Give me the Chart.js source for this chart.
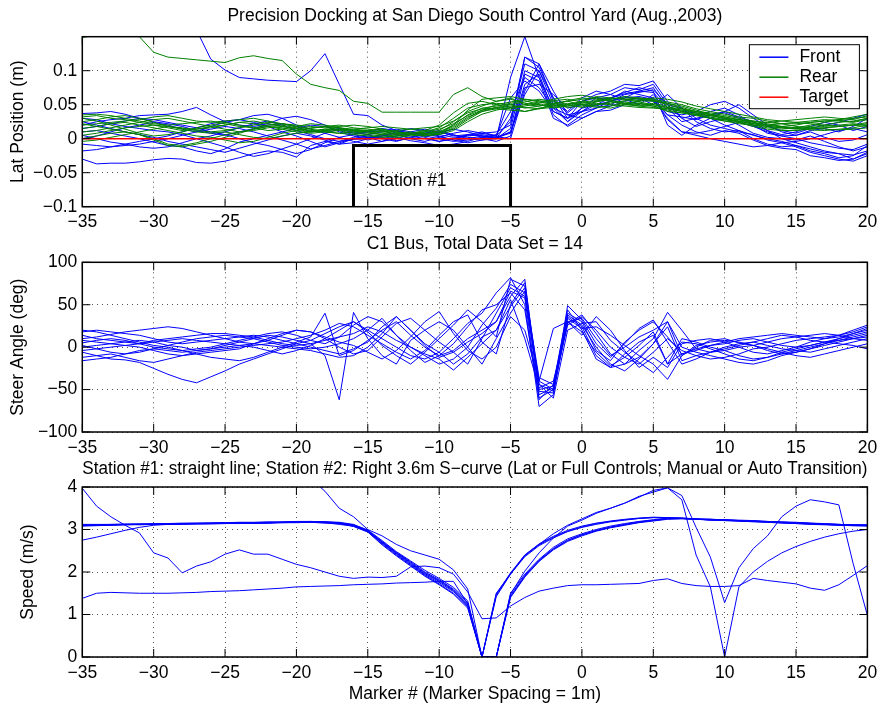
<!DOCTYPE html>
<html>
<head>
<meta charset="utf-8">
<title>Precision Docking</title>
<script src="https://cdn.jsdelivr.net/npm/chart.js@4.4.0/dist/chart.umd.min.js"></script>
<style>
  body { margin: 0; background: #fff; }
  canvas { position: absolute; left: 0; top: 0; }
</style>
</head>
<body>
<canvas id="lat" width="883" height="707"></canvas>
<canvas id="steer" width="883" height="707"></canvas>
<canvas id="speed" width="883" height="707"></canvas>
<script>
// marker numbers along the track
const markers = [
  -35, -34, -33, -32, -31, -30, -29, -28, -27, -26,
  -25, -24, -23, -22, -21, -20, -19, -18, -17, -16,
  -15, -14, -13, -12, -11, -10, -9, -8, -7, -6,
  -5, -4, -3, -2, -1, 0, 1, 2, 3, 4,
  5, 6, 7, 8, 9, 10, 11, 12, 13, 14,
  15, 16, 17, 18, 19, 20
];
const xTicks = [-35, -30, -25, -20, -15, -10, -5, 0, 5, 10, 15, 20];
const latTicks = [-0.1, -0.05, 0, 0.05, 0.1];
const steerTicks = [-100, -50, 0, 50, 100];
const speedTicks = [0, 1, 2, 3, 4];

// lateral position of the front sensor (m), one row per run
const frontLat = [
  [-0.030,-0.037,-0.036,-0.036,-0.034,-0.031,-0.029,-0.030,-0.035,-0.036,
   -0.033,-0.028,-0.022,-0.018,-0.020,-0.027,-0.010,-0.004,-0.008,0.000,
   0.004,0.002,-0.003,0.001,0.006,0.003,-0.002,0.000,0.004,0.002,
   0.010,0.080,0.095,0.040,0.030,0.045,0.050,0.055,0.060,0.062,
   0.058,0.030,0.010,0.005,0.000,-0.004,-0.008,-0.012,-0.010,-0.006,
   -0.012,-0.020,-0.025,-0.030,-0.033,-0.025],
  [0.300,0.280,0.260,0.240,0.220,0.200,0.190,0.180,0.160,0.117,
   0.101,0.090,0.088,0.086,0.085,0.084,0.100,0.125,0.080,0.036,
   0.034,0.020,0.012,0.008,0.004,0.006,0.002,0.005,0.008,0.010,
   0.020,0.120,0.105,0.060,0.040,0.060,0.070,0.065,0.075,0.072,
   0.080,0.050,0.030,0.035,0.040,0.045,0.035,0.020,0.008,0.004,
   0.005,0.010,0.002,-0.004,-0.002,0.006],
  [0.037,0.038,0.040,0.036,0.030,0.025,0.022,0.018,0.012,0.008,
   0.005,0.010,0.015,0.020,0.022,0.018,0.010,0.012,0.015,0.008,
   0.010,0.015,0.012,0.008,0.006,0.010,0.005,0.002,0.000,-0.004,
   0.004,0.095,0.085,0.030,0.020,0.035,0.045,0.050,0.060,0.070,
   0.075,0.045,0.040,0.038,0.030,0.020,0.012,0.005,0.000,-0.004,
   -0.010,-0.015,-0.020,-0.022,-0.030,-0.020],
  [0.020,0.025,0.028,0.030,0.034,0.035,0.036,0.040,0.046,0.035,
   0.025,0.020,0.018,0.022,0.030,0.033,0.028,0.020,0.010,0.004,
   -0.002,0.004,0.010,0.015,0.012,0.008,0.014,0.010,0.004,0.000,
   0.030,0.110,0.100,0.050,0.025,0.040,0.055,0.060,0.068,0.075,
   0.070,0.020,0.005,0.020,0.030,0.040,0.050,0.035,0.020,0.010,
   0.005,0.012,0.015,0.010,0.018,0.030],
  [0.010,0.012,0.008,0.004,0.000,-0.005,-0.010,-0.012,-0.018,-0.022,
   -0.015,-0.005,0.000,0.005,0.010,0.015,0.020,0.018,0.012,0.006,
   0.002,-0.004,0.000,0.006,0.010,0.004,-0.002,-0.006,-0.002,0.003,
   0.000,0.070,0.110,0.070,0.035,0.030,0.040,0.048,0.055,0.060,
   0.050,0.065,0.045,0.025,0.015,0.010,0.012,0.000,-0.008,-0.012,
   -0.010,-0.018,-0.022,-0.028,-0.025,-0.010],
  [-0.018,-0.016,-0.012,-0.010,-0.008,-0.004,0.000,0.005,0.010,0.014,
   0.018,0.015,0.010,0.004,-0.002,-0.008,-0.015,-0.010,-0.004,-0.001,
   0.000,0.006,0.002,-0.003,-0.006,-0.010,-0.008,-0.004,0.002,0.006,
   0.040,0.090,0.075,0.045,0.025,0.045,0.060,0.065,0.058,0.050,
   0.065,0.040,0.035,0.040,0.050,0.055,0.045,0.030,0.018,0.012,
   0.008,0.015,0.020,0.024,0.030,0.036],
  [0.030,0.028,0.022,0.018,0.015,0.012,0.010,0.006,0.000,-0.006,
   -0.012,-0.020,-0.026,-0.022,-0.015,-0.008,0.000,0.008,0.014,0.010,
   0.006,0.000,-0.004,0.002,0.008,0.012,0.006,0.000,-0.002,0.000,
   0.015,0.100,0.090,0.035,0.018,0.030,0.040,0.042,0.050,0.055,
   0.060,0.035,0.020,0.010,0.005,0.012,0.008,-0.002,-0.010,-0.014,
   -0.016,-0.025,-0.028,-0.032,-0.030,-0.022],
  [0.000,0.004,0.010,0.016,0.020,0.024,0.020,0.014,0.010,0.018,
   0.024,0.028,0.034,0.036,0.030,0.020,0.014,0.008,0.002,-0.004,
   -0.008,-0.004,0.004,0.010,0.014,0.010,0.004,0.006,0.010,0.004,
   0.060,0.085,0.070,0.040,0.030,0.055,0.065,0.070,0.080,0.078,
   0.085,0.055,0.030,0.018,0.025,0.030,0.020,0.008,0.002,0.000,
   -0.002,0.004,-0.004,-0.012,-0.018,-0.012],
  [0.025,0.020,0.015,0.010,0.006,0.002,-0.004,-0.008,-0.012,-0.016,
   -0.020,-0.014,-0.008,-0.002,0.004,0.008,0.004,-0.002,-0.008,-0.006,
   0.000,0.004,0.008,0.004,0.000,-0.004,0.000,0.004,0.006,0.002,
   0.008,0.075,0.080,0.065,0.045,0.050,0.048,0.055,0.065,0.068,
   0.072,0.050,0.045,0.030,0.020,0.015,0.010,0.006,-0.002,-0.006,
   -0.004,0.000,0.006,0.012,0.015,0.010],
  [0.015,0.018,0.022,0.026,0.030,0.028,0.024,0.020,0.016,0.010,
   0.006,0.000,-0.006,-0.010,-0.016,-0.022,-0.016,-0.006,0.002,0.006,
   0.010,0.012,0.006,0.000,-0.004,0.002,0.008,0.012,0.008,0.004,
   0.025,0.120,0.110,0.055,0.038,0.055,0.060,0.058,0.070,0.065,
   0.060,0.028,0.010,0.008,0.012,0.018,0.024,0.018,0.010,0.004,
   0.000,-0.006,-0.010,-0.014,-0.016,-0.008],
  [0.005,0.000,-0.005,-0.008,-0.012,-0.014,-0.012,-0.006,0.000,0.004,
   0.010,0.016,0.022,0.026,0.020,0.012,0.006,0.000,-0.004,0.002,
   0.006,0.010,0.014,0.010,0.004,0.000,-0.004,-0.002,0.002,0.000,
   0.010,0.065,0.100,0.060,0.030,0.040,0.050,0.060,0.066,0.070,
   0.068,0.045,0.025,0.030,0.035,0.038,0.030,0.020,0.012,0.006,
   0.010,0.018,0.024,0.020,0.012,0.018],
  [-0.008,-0.010,-0.012,-0.008,-0.004,0.000,0.004,0.010,0.016,0.022,
   0.026,0.028,0.024,0.018,0.010,0.004,-0.004,-0.012,-0.006,0.000,
   0.002,0.000,0.004,0.008,0.002,-0.004,0.000,0.006,0.004,0.000,
   0.090,0.150,0.090,0.045,0.035,0.040,0.045,0.055,0.062,0.058,
   0.055,0.035,0.032,0.028,0.035,0.040,0.032,0.025,0.012,0.000,
   -0.006,-0.012,-0.018,-0.022,-0.024,-0.018]
];

// lateral position of the rear sensor (m)
const rearLat = [
  [0.149,0.152,0.156,0.155,0.150,0.127,0.120,0.118,0.116,0.114,
   0.112,0.119,0.122,0.118,0.115,0.095,0.080,0.075,0.071,0.055,
   0.052,0.039,0.039,0.039,0.039,0.039,0.065,0.075,0.062,0.055,
   0.060,0.050,0.048,0.052,0.055,0.050,0.048,0.045,0.050,0.052,
   0.048,0.040,0.038,0.036,0.034,0.030,0.026,0.022,0.020,0.022,
   0.024,0.026,0.028,0.027,0.025,0.030],
  [0.035,0.036,0.034,0.030,0.026,0.022,0.020,0.022,0.024,0.026,
   0.022,0.018,0.016,0.020,0.022,0.018,0.015,0.018,0.020,0.016,
   0.014,0.012,0.010,0.008,0.010,0.016,0.030,0.045,0.050,0.052,
   0.050,0.045,0.048,0.052,0.055,0.058,0.060,0.056,0.054,0.052,
   0.050,0.046,0.042,0.038,0.034,0.030,0.028,0.024,0.020,0.018,
   0.020,0.024,0.026,0.028,0.030,0.032],
  [0.025,0.028,0.032,0.034,0.030,0.024,0.018,0.015,0.014,0.016,
   0.020,0.024,0.026,0.022,0.018,0.015,0.012,0.014,0.016,0.012,
   0.010,0.008,0.006,0.008,0.012,0.020,0.038,0.052,0.055,0.050,
   0.046,0.040,0.044,0.050,0.056,0.060,0.058,0.055,0.050,0.048,
   0.052,0.048,0.040,0.036,0.030,0.026,0.022,0.020,0.018,0.016,
   0.015,0.016,0.018,0.020,0.022,0.020],
  [0.010,0.012,0.016,0.020,0.024,0.028,0.030,0.026,0.022,0.018,
   0.014,0.010,0.012,0.016,0.018,0.014,0.010,0.012,0.014,0.010,
   0.008,0.006,0.008,0.010,0.006,0.012,0.025,0.040,0.048,0.055,
   0.058,0.052,0.050,0.048,0.050,0.055,0.062,0.060,0.058,0.056,
   0.055,0.052,0.046,0.040,0.035,0.030,0.024,0.018,0.014,0.012,
   0.012,0.014,0.016,0.018,0.020,0.024],
  [0.000,0.004,0.008,0.010,0.006,0.000,-0.008,-0.010,-0.006,0.000,
   0.006,0.010,0.014,0.018,0.020,0.016,0.012,0.010,0.008,0.006,
   0.004,0.002,0.004,0.006,0.004,0.008,0.020,0.035,0.045,0.048,
   0.052,0.056,0.050,0.045,0.048,0.052,0.055,0.058,0.060,0.058,
   0.056,0.050,0.044,0.038,0.032,0.028,0.025,0.022,0.024,0.026,
   0.028,0.030,0.032,0.030,0.028,0.034],
  [0.020,0.022,0.024,0.026,0.028,0.032,0.034,0.030,0.026,0.024,
   0.026,0.028,0.030,0.026,0.022,0.020,0.018,0.016,0.018,0.020,
   0.018,0.014,0.010,0.008,0.010,0.014,0.022,0.034,0.042,0.046,
   0.044,0.048,0.052,0.056,0.058,0.054,0.050,0.052,0.056,0.060,
   0.058,0.054,0.050,0.044,0.040,0.036,0.032,0.030,0.026,0.022,
   0.018,0.016,0.014,0.013,0.014,0.016],
  [0.030,0.026,0.020,0.014,0.008,0.004,0.006,0.010,0.016,0.020,
   0.024,0.020,0.016,0.012,0.014,0.018,0.022,0.020,0.016,0.012,
   0.012,0.010,0.012,0.014,0.016,0.018,0.026,0.038,0.044,0.044,
   0.042,0.040,0.045,0.048,0.052,0.050,0.046,0.048,0.052,0.055,
   0.060,0.058,0.054,0.048,0.044,0.040,0.036,0.032,0.028,0.026,
   0.024,0.022,0.020,0.018,0.020,0.022],
  [0.015,0.018,0.022,0.024,0.020,0.016,0.012,0.008,0.004,0.002,
   -0.002,-0.006,-0.004,0.002,0.008,0.012,0.016,0.018,0.016,0.014,
   0.012,0.010,0.008,0.006,0.008,0.010,0.014,0.028,0.040,0.046,
   0.050,0.054,0.058,0.055,0.050,0.046,0.050,0.054,0.052,0.050,
   0.048,0.044,0.040,0.035,0.030,0.026,0.024,0.020,0.016,0.014,
   0.016,0.020,0.024,0.028,0.032,0.036],
  [-0.004,-0.002,0.002,0.006,0.010,0.014,0.018,0.016,0.012,0.010,
   0.012,0.016,0.020,0.024,0.022,0.018,0.014,0.010,0.008,0.010,
   0.012,0.014,0.010,0.006,0.004,0.006,0.012,0.025,0.036,0.042,
   0.046,0.050,0.054,0.058,0.062,0.064,0.060,0.056,0.052,0.048,
   0.046,0.042,0.038,0.034,0.030,0.028,0.026,0.022,0.018,0.016,
   0.014,0.015,0.016,0.018,0.020,0.018],
  [0.022,0.018,0.014,0.010,0.006,-0.002,-0.010,-0.012,-0.008,-0.004,
   0.002,0.008,0.014,0.018,0.016,0.012,0.010,0.012,0.014,0.012,
   0.010,0.006,0.004,0.006,0.008,0.006,0.016,0.030,0.042,0.050,
   0.054,0.058,0.056,0.052,0.048,0.050,0.054,0.058,0.062,0.060,
   0.057,0.052,0.048,0.042,0.036,0.032,0.028,0.026,0.024,0.022,
   0.022,0.024,0.026,0.026,0.024,0.028],
  [0.005,0.008,0.012,0.016,0.018,0.020,0.018,0.014,0.010,0.008,
   0.010,0.006,0.002,0.000,0.004,0.008,0.010,0.014,0.012,0.008,
   0.006,0.004,0.002,0.004,0.006,0.008,0.018,0.032,0.040,0.044,
   0.048,0.046,0.044,0.046,0.050,0.054,0.056,0.060,0.058,0.054,
   0.050,0.046,0.044,0.040,0.038,0.034,0.030,0.026,0.022,0.018,
   0.016,0.018,0.020,0.024,0.026,0.030],
  [0.032,0.034,0.030,0.028,0.024,0.020,0.016,0.012,0.014,0.018,
   0.020,0.024,0.022,0.018,0.014,0.010,0.008,0.010,0.012,0.014,
   0.016,0.018,0.016,0.014,0.012,0.010,0.020,0.042,0.058,0.060,
   0.062,0.058,0.054,0.050,0.046,0.048,0.052,0.050,0.048,0.046,
   0.045,0.044,0.042,0.040,0.036,0.032,0.028,0.024,0.020,0.017,
   0.015,0.013,0.012,0.014,0.016,0.020]
];

// target line and the Station #1 outline
const targetX = [-35, 20];
const targetY = [0, 0];
const stationX = [-16, -16, -5, -5];
const stationY = [-0.1, -0.01, -0.01, -0.1];

// steering angle (deg)
const steerDeg = [
  [10,12,15,18,20,22,24,22,18,14, 10,6,4,8,14,20,18,10,0,-8,
   -4,12,28,34,20,6,-6,-20,10,40, 70,60,-40,-50,30,34,10,-10,0,12,
   20,30,-10,0,8,10,5,2,-4,-8, -6,-2,4,10,16,22],
  [-6,-10,-14,-15,-18,-25,-32,-38,-42,-35, -28,-20,-14,-8,-2,4,8,16,24,30,
   18,2,-10,-20,-6,10,26,44,30,12, 80,72,-50,-46,40,30,-4,-16,6,20,
   30,12,-8,-4,2,6,10,12,14,16, 14,12,10,12,16,20],
  [20,18,14,10,6,2,0,-4,-8,-12, -14,-16,-12,-6,0,6,12,40,-10,-4,
   8,20,30,14,0,-10,-4,10,20,30, 60,80,-56,-48,26,36,20,0,-12,-20,
   -6,10,-4,-10,-14,-12,-8,-2,0,4, 8,10,12,14,18,24],
  [0,2,4,6,8,6,2,0,-4,-2, 2,6,10,14,12,8,4,-10,-62,41,
   10,-10,-20,8,20,30,20,0,-20,10, 40,66,-36,-44,44,20,-14,-24,-8,6,
   14,-20,10,6,0,-4,-10,-14,-12,-6, -2,2,6,8,10,12],
  [-12,-10,-8,-12,-16,-18,-14,-10,-6,-4, -2,0,2,4,6,10,14,20,28,24,
   14,4,-6,-14,-4,14,30,38,6,-8, 50,76,-44,-60,20,28,30,8,-6,-18,
   -30,-12,6,4,-2,-8,-14,-16,-12,-8, -4,0,4,8,12,16],
  [5,8,10,8,4,0,-2,-4,-2,0, 4,8,12,16,18,14,8,4,12,26,
   36,30,14,-4,-18,-10,4,24,44,50, 64,44,-60,-50,36,24,-10,-24,-20,-4,
   10,41,20,-2,-6,-4,0,2,6,10, 12,14,16,14,10,8],
  [14,10,8,6,4,6,8,10,8,6, 4,2,0,-4,-8,-4,2,10,20,30,
   20,10,0,-10,-14,-6,10,28,40,64, 82,50,-70,-56,34,22,24,14,2,-10,
   -20,-38,-10,2,6,8,6,2,-2,-6, -10,-12,-8,-4,0,4],
  [-16,-14,-12,-8,-4,-2,-4,-6,-4,-2, 0,2,4,2,0,-2,-4,-8,-12,-10,
   0,16,36,20,4,-6,-20,-8,12,20, 56,10,-48,-40,28,38,16,-8,-20,-12,
   4,24,-16,-10,-6,-2,2,6,10,14, 12,8,6,4,2,-2],
  [2,-2,-6,-8,-6,-2,2,6,10,12, 14,12,10,6,2,0,-2,0,4,10,
   20,34,14,0,-10,-20,-14,0,26,46, 74,64,-52,-54,49,32,4,-12,4,22,
   32,6,-20,-14,-6,0,4,6,2,-2, -4,-6,-2,2,6,10],
  [8,6,4,2,0,-4,-8,-10,-8,-6, -4,-2,4,10,16,20,18,12,6,2,
   -6,-14,-4,12,30,42,16,-4,-14,0, 36,20,-40,22,30,14,36,20,-4,-24,
   -12,-24,4,8,10,6,0,-6,-8,-4, 0,6,10,14,20,26],
  [-4,-2,0,2,4,8,10,12,14,16, 16,14,12,8,4,2,4,8,12,16,
   24,18,8,0,-8,-14,-27,-12,4,20, 48,70,-44,-52,38,26,0,-20,-28,-14,
   4,30,0,-6,-10,-14,-18,-20,-16,-10, -6,-2,2,6,10,14],
  [18,20,18,16,14,10,6,4,6,8, 10,12,14,12,8,4,0,-4,-8,-2,
   6,24,36,20,2,-12,-6,6,16,30, 66,58,-62,-44,30,18,-6,-22,-12,2,
   18,-20,-8,-2,2,4,8,10,6,2, 0,2,6,10,14,18]
];

// bus speed (m/s)
const speedMs = [
  [1.38,1.50,1.52,1.51,1.50,1.50,1.50,1.51,1.52,1.54,
   1.55,1.56,1.58,1.60,1.62,1.65,1.66,1.67,1.68,1.70,
   1.71,1.72,1.74,1.75,1.76,1.78,1.78,1.25,0.00,0.00,
   1.48,2.02,2.45,2.80,3.08,3.22,3.38,3.50,3.62,3.76,
   3.92,3.98,3.80,3.05,2.35,1.28,2.10,2.55,2.85,3.30,
   3.55,3.70,3.65,3.58,2.20,0.98],
  [3.97,3.55,3.30,3.10,2.92,2.45,2.33,1.98,2.14,2.24,
   2.42,2.52,2.42,2.42,2.30,2.18,2.10,2.00,1.90,1.85,
   1.88,1.87,1.90,2.12,2.14,2.10,1.95,1.53,0.90,0.92,
   1.20,1.40,1.55,1.62,1.68,1.70,1.70,1.71,1.72,1.73,
   1.80,1.84,1.73,1.68,1.66,1.66,1.68,1.85,1.80,1.76,
   1.72,1.62,1.57,1.70,1.92,2.15],
  [4.80,4.80,4.75,4.70,4.65,4.60,4.55,4.50,4.50,4.45,
   4.45,4.40,4.40,4.35,4.30,4.25,4.20,3.90,3.50,3.30,
   3.00,2.85,2.65,2.50,2.40,2.30,2.05,1.60,0.00,1.50,
   1.95,2.40,2.65,2.90,3.10,3.25,3.40,3.50,3.62,3.78,
   3.88,3.98,3.70,2.40,1.65,0.00,1.65,2.00,2.25,2.45,
   2.60,2.72,2.82,2.90,2.96,3.00],
  [2.75,2.82,2.90,2.98,3.05,3.10,3.12,3.12,3.13,3.13,
   3.14,3.14,3.15,3.15,3.16,3.16,3.17,3.17,3.16,3.10,
   2.96,2.70,2.45,2.22,1.98,1.80,1.58,1.24,0.00,1.45,
   1.96,2.38,2.64,2.82,2.96,3.06,3.14,3.19,3.23,3.26,
   3.28,3.27,3.26,3.24,3.22,3.21,3.20,3.18,3.17,3.15,
   3.14,3.12,3.11,3.10,3.09,3.08],
  [3.10,3.10,3.11,3.11,3.12,3.12,3.13,3.13,3.14,3.14,
   3.14,3.15,3.15,3.16,3.16,3.17,3.18,3.18,3.17,3.12,
   2.98,2.70,2.44,2.20,1.96,1.78,1.56,1.22,0.00,0.00,
   1.45,1.92,2.28,2.55,2.75,2.88,2.98,3.06,3.12,3.18,
   3.22,3.26,3.26,3.24,3.24,3.22,3.20,3.20,3.18,3.17,
   3.16,3.14,3.12,3.11,3.10,3.10],
  [3.08,3.09,3.10,3.12,3.13,3.12,3.12,3.14,3.15,3.15,
   3.15,3.16,3.16,3.15,3.17,3.18,3.19,3.18,3.16,3.10,
   2.96,2.68,2.42,2.18,1.94,1.75,1.54,1.20,0.00,1.42,
   1.95,2.36,2.62,2.80,2.95,3.05,3.12,3.18,3.22,3.26,
   3.28,3.28,3.27,3.25,3.22,3.22,3.21,3.19,3.18,3.16,
   3.15,3.13,3.12,3.10,3.09,3.09],
  [3.11,3.11,3.12,3.12,3.11,3.12,3.13,3.14,3.13,3.14,
   3.15,3.15,3.14,3.16,3.17,3.17,3.17,3.16,3.12,3.08,
   2.95,2.66,2.40,2.16,1.92,1.72,1.50,1.18,0.00,0.00,
   1.40,1.88,2.25,2.52,2.72,2.85,2.96,3.04,3.10,3.16,
   3.20,3.24,3.25,3.24,3.23,3.22,3.21,3.20,3.19,3.17,
   3.16,3.15,3.13,3.12,3.11,3.10],
  [3.09,3.10,3.10,3.11,3.12,3.13,3.13,3.13,3.14,3.15,
   3.15,3.15,3.16,3.17,3.17,3.18,3.18,3.17,3.15,3.09,
   2.97,2.72,2.46,2.24,2.00,1.82,1.60,1.28,0.00,1.48,
   1.98,2.40,2.66,2.84,2.98,3.08,3.15,3.20,3.24,3.27,
   3.29,3.28,3.26,3.24,3.23,3.21,3.20,3.19,3.17,3.16,
   3.14,3.13,3.12,3.11,3.10,3.10],
  [3.10,3.11,3.11,3.12,3.12,3.12,3.13,3.14,3.14,3.15,
   3.16,3.16,3.15,3.16,3.17,3.18,3.17,3.15,3.14,3.11,
   2.99,2.74,2.48,2.26,2.04,1.85,1.64,1.32,0.00,0.00,
   1.50,1.95,2.30,2.58,2.78,2.90,3.00,3.08,3.14,3.19,
   3.23,3.27,3.27,3.25,3.24,3.23,3.21,3.20,3.18,3.17,
   3.16,3.14,3.13,3.12,3.11,3.10],
  [3.12,3.12,3.12,3.13,3.13,3.14,3.14,3.15,3.15,3.15,
   3.16,3.17,3.17,3.18,3.18,3.19,3.19,3.18,3.14,3.07,
   2.94,2.64,2.38,2.14,1.90,1.70,1.48,1.15,0.00,0.00,
   1.42,1.90,2.26,2.54,2.74,2.87,2.97,3.05,3.11,3.17,
   3.21,3.25,3.26,3.25,3.24,3.23,3.22,3.21,3.19,3.18,
   3.17,3.15,3.14,3.12,3.11,3.11]
];

const BLUE = '#0000ff';
const GREEN = '#008000';
const RED = '#ff0000';
const FONT = { family: "'Liberation Sans', Arial, sans-serif", size: 17.5 };

Chart.defaults.font.family = FONT.family;
Chart.defaults.font.size = FONT.size;
Chart.defaults.color = '#000';
Chart.defaults.animation = false;

const minus = v => String(v).replace('-', '\u2212');

function series(values, color, label) {
  return {
    label: label,
    data: values.map((v, i) => ({ x: markers[i], y: v })),
    borderColor: color,
    backgroundColor: color,
    borderWidth: 1,
    pointRadius: 0,
    tension: 0
  };
}

function pairs(xs, ys, color, width, label) {
  return {
    label: label,
    data: xs.map((x, i) => ({ x: x, y: ys[i] })),
    borderColor: color,
    backgroundColor: color,
    borderWidth: width,
    pointRadius: 0,
    tension: 0
  };
}

function xAxis(title) {
  return {
    type: 'linear',
    min: -35,
    max: 20,
    afterBuildTicks: s => { s.ticks = xTicks.map(v => ({ value: v })); },
    afterFit: s => { s.height = 48; },
    ticks: { padding: 5.2, autoSkip: false, maxRotation: 0, callback: minus },
    grid: { color: '#555', drawTicks: false },
    border: { display: false, dash: [1, 4] },
    title: { display: true, text: title, padding: 0 }
  };
}

// empty axis along the top edge that only carries the plot heading,
// so the heading is centred over the axes rather than the canvas
function headAxis(text, height) {
  return {
    type: 'linear',
    position: 'top',
    min: -35,
    max: 20,
    afterFit: s => { s.height = height; },
    ticks: { display: false },
    grid: { display: false, drawTicks: false },
    border: { display: false },
    title: { display: !!text, text: text || '', padding: { top: 5.5, bottom: 0 } }
  };
}

function yAxis(title, min, max, ticks, titlePad) {
  return {
    min: min,
    max: max,
    afterBuildTicks: s => { s.ticks = ticks.map(v => ({ value: v })); },
    afterFit: s => { s.width = 82.3; },
    ticks: { padding: 5, callback: minus },
    grid: { color: '#555', drawTicks: false },
    border: { display: false, dash: [1, 4] },
    title: { display: true, text: title, padding: { top: titlePad, bottom: 0 } }
  };
}

// MATLAB-style box with inward tick marks
const axesBox = {
  id: 'axesBox',
  afterDatasetsDraw(chart) {
    const { ctx, chartArea: a, scales } = chart;
    const len = 8;
    ctx.save();
    ctx.strokeStyle = '#000';
    ctx.lineWidth = 1;
    ctx.beginPath();
    scales.x.ticks.forEach(t => {
      const px = scales.x.getPixelForValue(t.value);
      ctx.moveTo(px, a.bottom); ctx.lineTo(px, a.bottom - len);
      ctx.moveTo(px, a.top); ctx.lineTo(px, a.top + len);
    });
    scales.y.ticks.forEach(t => {
      const py = scales.y.getPixelForValue(t.value);
      ctx.moveTo(a.left, py); ctx.lineTo(a.left + len, py);
      ctx.moveTo(a.right, py); ctx.lineTo(a.right - len, py);
    });
    ctx.stroke();
    ctx.lineWidth = 1.5;
    ctx.strokeRect(a.left, a.top, a.right - a.left, a.bottom - a.top);
    ctx.restore();
  }
};

// boxed legend in the upper right corner of the axes
const boxLegend = {
  id: 'boxLegend',
  afterDraw(chart, args, opts) {
    if (!opts.show) return;
    const { ctx, chartArea: a } = chart;
    const seen = [];
    chart.data.datasets.forEach(ds => {
      if (ds.label && !seen.find(s => s.label === ds.label)) seen.push(ds);
    });
    const order = ['Front', 'Rear', 'Target'];
    const items = order.map(l => seen.find(s => s.label === l)).filter(Boolean);
    const w = 110, rowH = 20, h = 4 + items.length * rowH;
    const left = a.right - 8 - w, top = a.top + 8;
    ctx.save();
    ctx.fillStyle = '#fff';
    ctx.fillRect(left, top, w, h);
    ctx.strokeStyle = '#000';
    ctx.lineWidth = 1;
    ctx.strokeRect(left, top, w, h);
    ctx.font = FONT.size + 'px ' + FONT.family;
    ctx.textBaseline = 'middle';
    ctx.textAlign = 'left';
    items.forEach((ds, i) => {
      const y = top + 12.5 + i * rowH;
      ctx.strokeStyle = ds.borderColor;
      ctx.lineWidth = 1.5;
      ctx.beginPath();
      ctx.moveTo(left + 10, y);
      ctx.lineTo(left + 39, y);
      ctx.stroke();
      ctx.fillStyle = '#000';
      ctx.fillText(ds.label, left + 50, y);
    });
    ctx.restore();
  }
};

// text placed at data coordinates
const dataText = {
  id: 'dataText',
  afterDatasetsDraw(chart, args, opts) {
    if (!opts.text) return;
    const { ctx, scales } = chart;
    ctx.save();
    ctx.font = FONT.size + 'px ' + FONT.family;
    ctx.fillStyle = '#000';
    ctx.textBaseline = 'middle';
    ctx.textAlign = 'left';
    ctx.fillText(opts.text, scales.x.getPixelForValue(opts.x), scales.y.getPixelForValue(opts.y));
    ctx.restore();
  }
};

function makeChart(id, datasets, opts) {
  const scales = {
    x: xAxis(opts.xTitle),
    y: yAxis(opts.yTitle, opts.min, opts.max, opts.yTicks, opts.yPad)
  };
  if (opts.title) scales.head = headAxis(opts.title, opts.headH);
  return new Chart(document.getElementById(id), {
    type: 'line',
    data: { datasets: datasets },
    options: {
      responsive: false,
      animation: false,
      layout: { padding: { left: 0, right: 15.6, top: opts.top, bottom: opts.bottom } },
      plugins: {
        legend: { display: false },
        tooltip: { enabled: false },
        boxLegend: { show: !!opts.legend },
        dataText: opts.label || {}
      },
      scales: scales
    },
    plugins: [axesBox, boxLegend, dataText]
  });
}

// first dataset ends up on top, so station and target come first
const latSets = [pairs(stationX, stationY, '#000', 3, '')]
  .concat([pairs(targetX, targetY, RED, 1.5, 'Target')])
  .concat(rearLat.map(r => series(r, GREEN, 'Rear')))
  .concat(frontLat.map(r => series(r, BLUE, 'Front')));

makeChart('lat', latSets, {
  top: 0, bottom: 707 - 206.7 - 48, headH: 36.7,
  title: 'Precision Docking at San Diego South Control Yard (Aug.,2003)',
  xTitle: 'C1 Bus, Total Data Set = 14',
  yTitle: 'Lat Position (m)', min: -0.1, max: 0.15, yTicks: latTicks, yPad: 7.8,
  legend: true,
  label: { text: 'Station #1', x: -15, y: -0.062 }
});

makeChart('steer', steerDeg.map(r => series(r, BLUE, '')), {
  top: 262.3, bottom: 707 - 432 - 48,
  xTitle: 'Station #1: straight line; Station #2: Right 3.6m S\u2212curve (Lat or Full Controls; Manual or Auto Transition)',
  yTitle: 'Steer Angle (deg)', min: -100, max: 100, yTicks: steerTicks, yPad: 7.8
});

makeChart('speed', speedMs.map(r => series(r, BLUE, '')), {
  top: 487, bottom: 707 - 657 - 48,
  xTitle: 'Marker # (Marker Spacing = 1m)',
  yTitle: 'Speed (m/s)', min: 0, max: 4, yTicks: speedTicks, yPad: 17.5
});
</script>
</body>
</html>
